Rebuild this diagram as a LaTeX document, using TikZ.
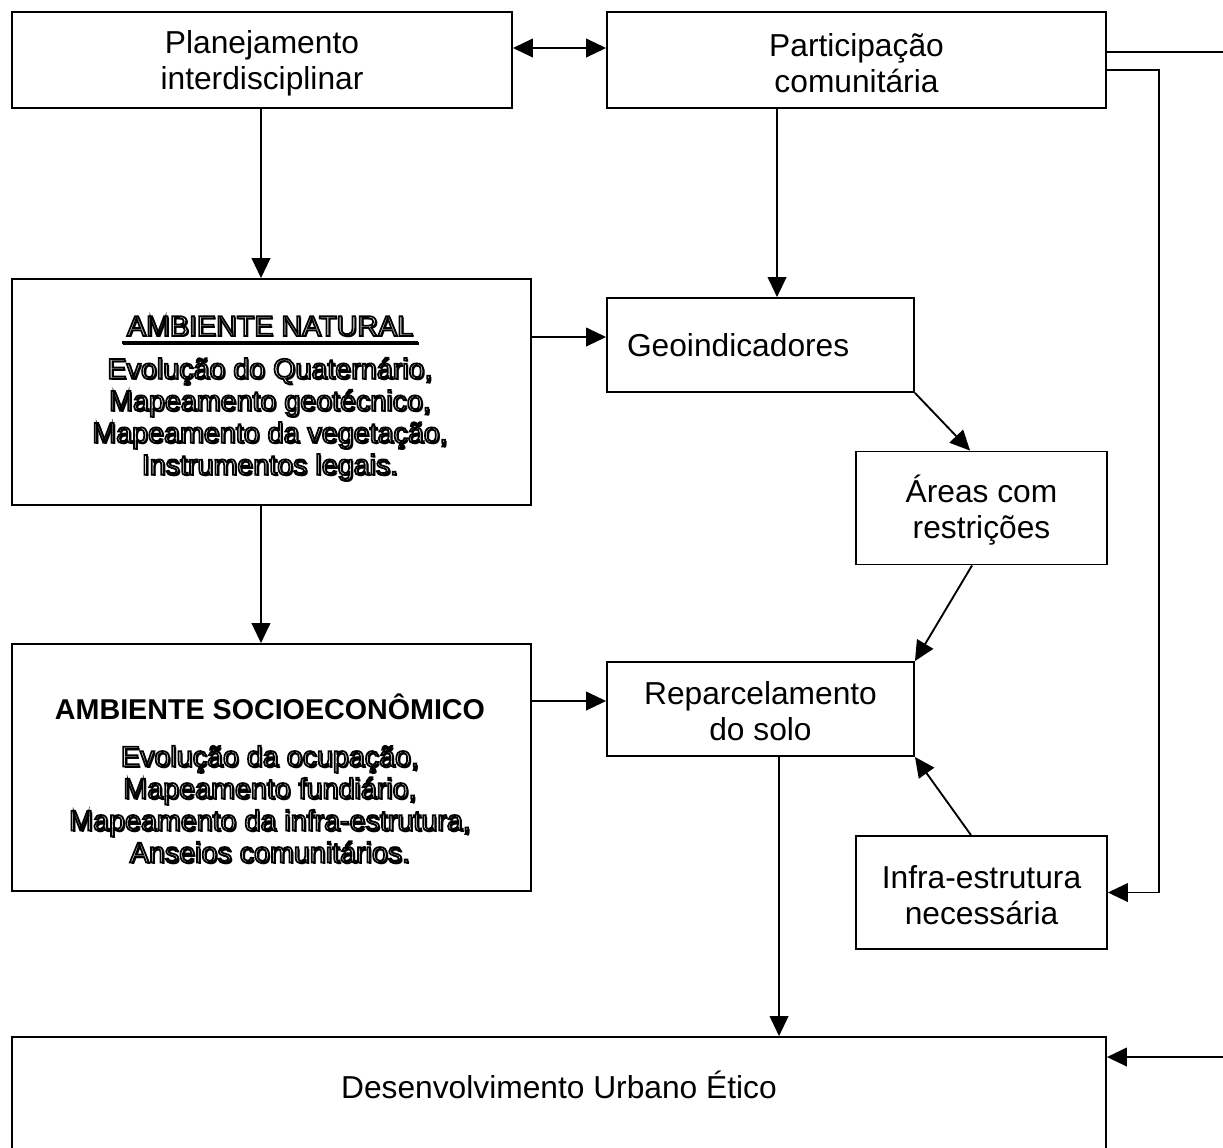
\documentclass[tikz,border=0pt]{standalone}
\usepackage{fontspec}
\setmainfont{Liberation Sans}
\usetikzlibrary{arrows.meta}

% outlined white lettering (stroke + fill text mode) with a black drop shadow
\newcommand\shtext[1]{\leavevmode\rlap{\kern1.2pt\raisebox{-1.2pt}{#1}}{\color{white}\special{pdf:literal direct 0 G 1.3 w 2 Tr}#1\special{pdf:literal direct 0 Tr}}}

\begin{document}
\begin{tikzpicture}[x=0.75pt,y=-0.75pt,
  box/.style={draw,line width=1.4pt,rectangle,inner sep=0pt,align=center},
  conn/.style={line width=1.4pt,-{Triangle[length=15pt,width=14pt]}},
  bigtxt/.style={font=\fontsize{23.8}{27}\selectfont},
  smalltxt/.style={font=\fontsize{21.5}{24}\selectfont},
  boldtxt/.style={font=\fontsize{21.5}{24}\selectfont\bfseries}]

\useasboundingbox (0,0) rectangle (1223,1147);

% boxes
\node[box,minimum width=375pt,minimum height=72pt] (plan) at (262,60) {};
\node[bigtxt,align=center] (plantxt) at ([yshift=-2.5pt]plan.center) {Planejamento\\interdisciplinar};
\node[box,minimum width=374.25pt,minimum height=72pt] (part) at (856.5,60) {};
\node[bigtxt,align=center] (parttxt) at ([yshift=-2pt]part.center) {Participação\\comunitária};
\node[box,minimum width=389.25pt,minimum height=169.5pt] (nat) at (271.5,392) {};
\node[box,bigtxt,minimum width=230.25pt,minimum height=70.5pt,inner xsep=15pt,text width=200.25pt,align=left] (geo) at (760.5,345) {Geoindicadores};
\node[box,minimum width=188.25pt,minimum height=84.75pt] (areas) at (981.5,508) {};
\node[bigtxt,align=center] (areastxt) at ([yshift=-1.5pt]areas.center) {Áreas com\\restrições};
\node[box,minimum width=230.25pt,minimum height=70.5pt] (repar) at (760.5,709) {};
\node[bigtxt,align=center] (repartxt) at ([yshift=-1.5pt]repar.center) {Reparcelamento\\do solo};
\node[box,minimum width=389.25pt,minimum height=185.25pt] (socio) at (271.5,767.5) {};
\node[box,minimum width=188.25pt,minimum height=84.75pt] (infra) at (981.5,892.5) {};
\node[bigtxt,align=center] (infratxt) at ([yshift=-2pt]infra.center) {Infra-estrutura\\necessária};
\node[box,minimum width=820.5pt,minimum height=92.25pt] (desenv) at (559,1098.5) {};

% texts inside the two large boxes and the bottom box
\node[smalltxt] (nattitle) at (270,327) {\shtext{AMBIENTE NATURAL}};
\draw[line width=2.4pt] ([xshift=0.9pt,yshift=-0.9pt]nattitle.south west) -- ([xshift=0.9pt,yshift=-0.9pt]nattitle.south east);
\draw[line width=2.2pt] (nattitle.south west) -- (nattitle.south east);
\node[smalltxt,align=center] (natlist) at (270,420) {\shtext{Evolução do Quaternário,}\\\shtext{Mapeamento geotécnico,}\\\shtext{Mapeamento da vegetação,}\\\shtext{Instrumentos legais.}};
\node[boldtxt] (sociotitle) at (270,707) {AMBIENTE SOCIOECONÔMICO};
\node[smalltxt,align=center] (sociolist) at (270,805) {\shtext{Evolução da ocupação,}\\\shtext{Mapeamento fundiário,}\\\shtext{Mapeamento da infra-estrutura,}\\\shtext{Anseios comunitários.}};
\node[bigtxt] (desenvtxt) at (559,1085) {Desenvolvimento Urbano Ético};

% connectors
\draw[conn,{Triangle[length=15pt,width=14pt]}-{Triangle[length=15pt,width=14pt]}] ([yshift=9pt]plan.east) -- ([yshift=9pt]part.west);
\draw[conn] ([xshift=-0.75pt]plan.south) -- ([xshift=-0.75pt]plan.south |- nat.north);
\draw[conn] ([xshift=-59.6pt]part.south) -- ([xshift=-59.6pt]part.south |- geo.north);
\coordinate (geoin) at ([yshift=6pt]geo.west);
\draw[conn] (nat.east |- geoin) -- (geoin);
\draw[conn] (geo.south east) -- ([xshift=-8.6pt]areas.north);
\draw[conn] ([xshift=-7.1pt]areas.south) -- (repar.north east);
\coordinate (reparin) at ([yshift=6pt]repar.west);
\draw[conn] (socio.east |- reparin) -- (reparin);
\draw[conn] ([xshift=-7.9pt]infra.north) -- (repar.south east);
\draw[conn] ([xshift=-7.9pt]nat.south) -- ([xshift=-7.9pt]nat.south |- socio.north);
\draw[conn] ([xshift=13.9pt]repar.south) -- ([xshift=13.9pt]repar.south |- desenv.north);
\coordinate (rt1) at (1159,892.5);
\draw[conn] ([yshift=-7.5pt]part.east) -| (rt1) -- (infra.east);
\coordinate (rt2) at (1240,1057);
\coordinate (desin) at (desenv.east |- rt2);
\draw[conn] ([yshift=6pt]part.east) -| (rt2) -- (desin);
\end{tikzpicture}
\end{document}
